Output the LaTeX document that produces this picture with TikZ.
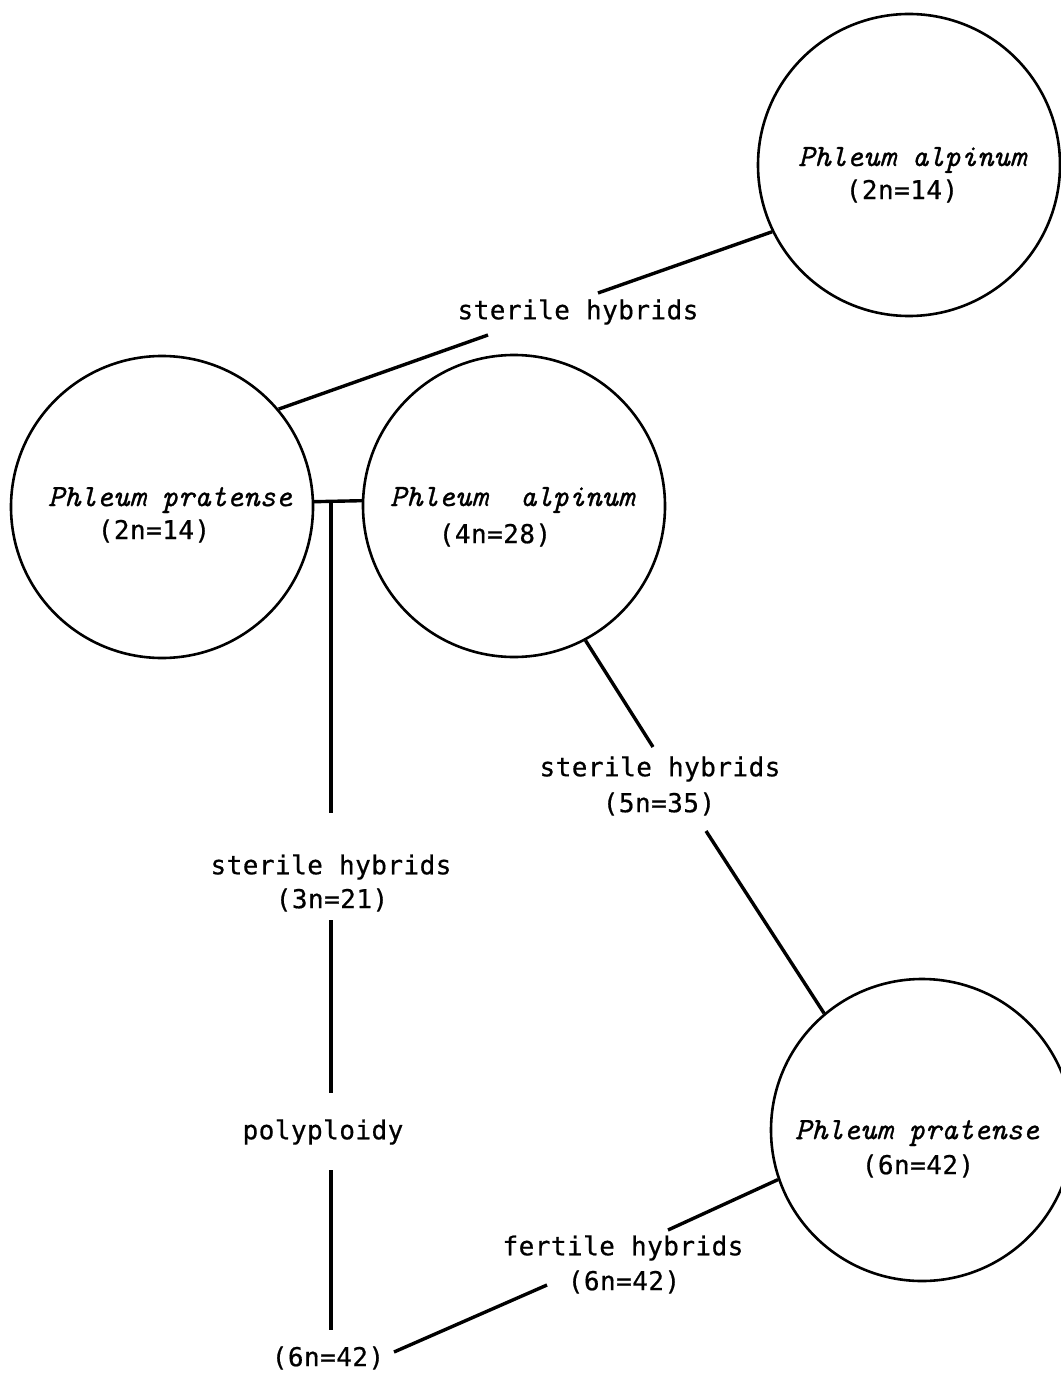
\documentclass[tikz,border=0pt]{standalone}
\usepackage{fontspec}
\newfontfamily\labelfont[LetterSpace=1.8,FakeBold=0.6]{DejaVu Sans Mono}
\newfontfamily\speciesfont[FakeBold=0.8]{lmmono10-italic.otf}
\begin{document}
\begin{tikzpicture}[x=0.5pt,y=-0.5pt,
  species/.style={draw, circle, line width=1.3pt, minimum size=151pt, inner sep=0pt},
  spname/.style={font=\fontsize{15.5}{18}\selectfont\speciesfont, inner sep=0pt},
  lbl/.style={font=\fontsize{13}{15}\selectfont\labelfont, inner sep=0pt},
  link/.style={line width=1.7pt}]
\useasboundingbox (0,0) rectangle (1060,1374);

% species circles
\node[species] (alpTwo)  at (909,165)  {};
\node[species] (praTwo)  at (162,507)  {};
\node[species] (alpFour) at (514,506)  {};
\node[species] (praSix)  at (922,1130) {};

% names and chromosome numbers
\node[spname] (alpTwoName)  at (912,160)  {Phleum alpinum};
\node[lbl]    (alpTwoNum)   at (902,191)  {(2n=14)};
\node[spname] (praTwoName)  at (170,500)  {Phleum pratense};
\node[lbl]    (praTwoNum)   at (154,531)  {(2n=14)};
\node[spname] (alpFourName) at (512,500)  {Phleum\ \ alpinum};
\node[lbl]    (alpFourNum)  at (495,535)  {(4n=28)};
\node[spname] (praSixName)  at (917,1133) {Phleum pratense};
\node[lbl]    (praSixNum)   at (918,1166) {(6n=42)};

% hybrid labels
\node[lbl] (shTop)   at (578,312)  {sterile hybrids};
\node[lbl] (shMid)   at (660,769)  {sterile hybrids};
\node[lbl] (shMidN)  at (659,804)  {(5n=35)};
\node[lbl] (shLeft)  at (331,867)  {sterile hybrids};
\node[lbl] (shLeftN) at (332,900)  {(3n=21)};
\node[lbl] (poly)    at (323,1132) {polyploidy};
\node[lbl] (polyN)   at (328,1358) {(6n=42)};
\node[lbl] (fh)      at (623,1248) {fertile hybrids};
\node[lbl] (fhN)     at (624,1282) {(6n=42)};

% free ends of the connectors beside the labels
\coordinate (aEnd)  at (488,335);
\coordinate (bEnd)  at (598,293);
\coordinate (cEnd)  at (653,747);
\coordinate (dEnd)  at (706,831);
\coordinate (junc)  at (331,502);
\coordinate (eEnd)  at (331,813);
\coordinate (fEnd)  at (331,920);
\coordinate (gEnd)  at (331,1093);
\coordinate (hEnd)  at (331,1170);
\coordinate (iEnd)  at (331,1330);
\coordinate (jEnd)  at (394,1352);
\coordinate (kEnd)  at (547,1285);
\coordinate (lEnd)  at (668,1230);

% connectors
\draw[link] (praTwo.40) -- (aEnd);
\draw[link] (bEnd) -- (alpTwo.206);
\draw[link] (praTwo.2) -- (alpFour.178.5);
\draw[link] (junc) -- (eEnd);
\draw[link] (alpFour.298) -- (cEnd);
\draw[link] (dEnd) -- (praSix.130);
\draw[link] (fEnd) -- (gEnd);
\draw[link] (hEnd) -- (iEnd);
\draw[link] (jEnd) -- (kEnd);
\draw[link] (lEnd) -- (praSix.199);
\end{tikzpicture}
\end{document}
